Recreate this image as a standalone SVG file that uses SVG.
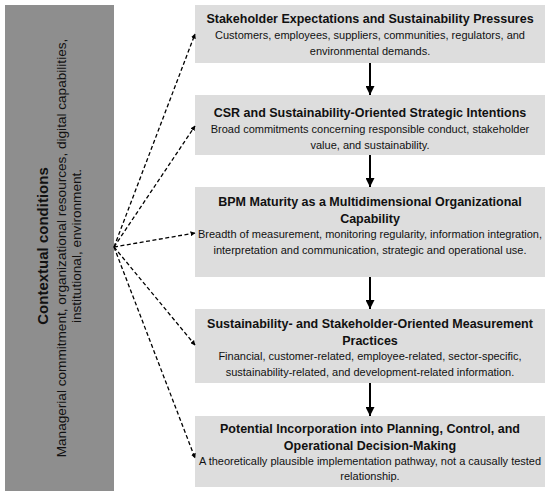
<svg xmlns="http://www.w3.org/2000/svg" width="550" height="495" viewBox="0 0 550 495">
<style>
.side{fill:#8e8e8e}
.box{fill:#dddddd}
.t{font-family:"Liberation Sans",Arial,sans-serif;fill:#111;text-anchor:middle}
.h{font-size:12.5px;font-weight:bold}
.b{font-size:11px}
.sh{font-size:15px;font-weight:bold}
.sb{font-size:13.6px}
.dash{stroke:#000;stroke-width:1.3;stroke-dasharray:4,2.5;fill:none;marker-end:url(#ad)}
.solid{stroke:#000;stroke-width:2;fill:none;marker-end:url(#as)}
</style>
<defs>
<marker id="ad" viewBox="0 0 10 10" refX="9" refY="5" markerWidth="5" markerHeight="5" orient="auto" markerUnits="userSpaceOnUse"><path d="M0,0 L10,5 L0,10 z" fill="#000"/></marker>
<marker id="as" viewBox="0 0 10 10" refX="10" refY="5" markerWidth="10" markerHeight="9" orient="auto" markerUnits="userSpaceOnUse"><path d="M0,0 L10,5 L0,10 z" fill="#000"/></marker>
</defs>
<rect width="550" height="495" fill="#fff"/>
<g id="context">
<rect class="side" x="5" y="5" width="109" height="486"/>
<text class="t sh" transform="translate(48,246) rotate(-90)">Contextual conditions</text>
<text class="t sb" transform="translate(66,248) rotate(-90)">Managerial commitment, organizational resources, digital capabilities,</text>
<text class="t sb" transform="translate(81,246) rotate(-90)">institutional, environment.</text>
</g>
<g id="n1">
<rect class="box" x="195" y="5" width="350" height="58"/>
<text class="t h" x="370" y="23">Stakeholder Expectations and Sustainability Pressures</text>
<text class="t b" x="370" y="39">Customers, employees, suppliers, communities, regulators, and</text>
<text class="t b" x="370" y="55">environmental demands.</text>
</g>
<g id="n2">
<rect class="box" x="195" y="95" width="350" height="60"/>
<text class="t h" x="370" y="117">CSR and Sustainability-Oriented Strategic Intentions</text>
<text class="t b" x="370" y="133">Broad commitments concerning responsible conduct, stakeholder</text>
<text class="t b" x="370" y="149">value, and sustainability.</text>
</g>
<g id="n3">
<rect class="box" x="195" y="187" width="350" height="90"/>
<text class="t h" x="370" y="206">BPM Maturity as a Multidimensional Organizational</text>
<text class="t h" x="370" y="223">Capability</text>
<text class="t b" x="370" y="238">Breadth of measurement, monitoring regularity, information integration,</text>
<text class="t b" x="370" y="254">interpretation and communication, strategic and operational use.</text>
</g>
<g id="n4">
<rect class="box" x="195" y="309" width="350" height="74"/>
<text class="t h" x="370" y="328">Sustainability- and Stakeholder-Oriented Measurement</text>
<text class="t h" x="370" y="345">Practices</text>
<text class="t b" x="370" y="360">Financial, customer-related, employee-related, sector-specific,</text>
<text class="t b" x="370" y="376">sustainability-related, and development-related information.</text>
</g>
<g id="n5">
<rect class="box" x="195" y="416" width="350" height="71"/>
<text class="t h" x="370" y="433">Potential Incorporation into Planning, Control, and</text>
<text class="t h" x="370" y="450">Operational Decision-Making</text>
<text class="t b" x="370" y="465">A theoretically plausible implementation pathway, not a causally tested</text>
<text class="t b" x="370" y="480">relationship.</text>
</g>
<g id="connectors">
<path class="solid" d="M370,63 V95"/>
<path class="solid" d="M370,155 V187"/>
<path class="solid" d="M370,277 V309"/>
<path class="solid" d="M370,383 V416"/>
<path class="dash" d="M114,247 L195,34"/>
<path class="dash" d="M114,247 L195,126"/>
<path class="dash" d="M114,247 L195,233"/>
<path class="dash" d="M114,247 L195,345"/>
<path class="dash" d="M114,247 L195,458"/>
</g>
</svg>
